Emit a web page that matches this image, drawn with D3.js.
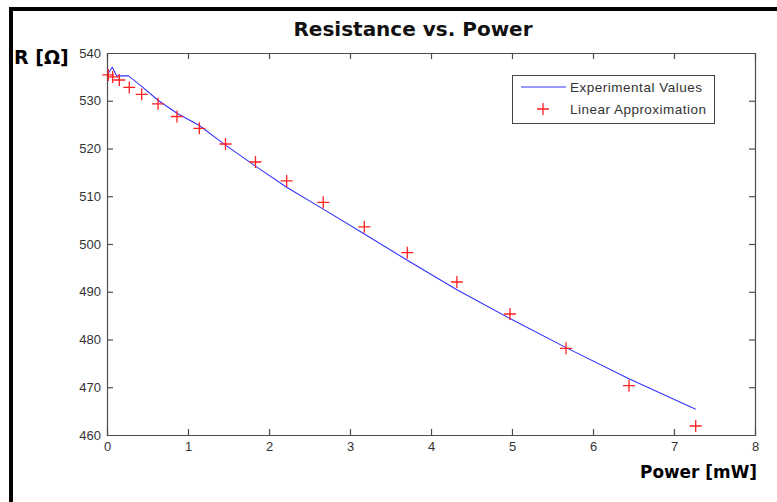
<!DOCTYPE html>
<html>
<head>
<meta charset="utf-8">
<script src="https://cdn.jsdelivr.net/npm/d3@7/dist/d3.min.js"></script>
<style>
  html, body { margin: 0; padding: 0; background: #fff; }
  svg { display: block; }
</style>
</head>
<body>
<script>
// Measured power (mW) and resistance (ohm)
const powerExp = [0.004, 0.065, 0.12, 0.263, 0.428, 0.63, 0.864, 1.14, 1.463, 1.833, 2.218, 2.67, 3.177, 3.707, 4.32, 4.975, 5.667, 6.444, 7.268];
const resistExp = [535.4, 537.0, 535.2, 535.25, 533.0, 530.1, 527.4, 524.8, 520.7, 516.3, 511.9, 507.3, 502.1, 496.6, 490.4, 484.4, 478.3, 471.8, 465.4];

// Linear approximation evaluated at each measurement
const powerLin = [0.016, 0.07, 0.152, 0.275, 0.428, 0.63, 0.864, 1.14, 1.463, 1.833, 2.218, 2.67, 3.177, 3.707, 4.32, 4.975, 5.667, 6.444, 7.268];
const resistLin = [535.4, 535.0, 534.35, 532.8, 531.35, 529.36, 526.7, 524.23, 520.94, 517.17, 513.2, 508.73, 503.6, 498.18, 492.04, 485.34, 478.16, 470.32, 461.88];

const xTicks = [0, 1, 2, 3, 4, 5, 6, 7, 8];
const yTicks = [460, 470, 480, 490, 500, 510, 520, 530, 540];
const legendLabels = ["Experimental Values", "Linear Approximation"];
const legendWidths = [132, 136];

const W = 777, H = 502;
const plotL = 107, plotR = 755, plotT = 53, plotB = 435;
const axisColor = "#4d4d4d";
const textColor = "#333";

const svg = d3.select("body").append("svg").attr("width", W).attr("height", H);

// figure frame
svg.append("rect").attr("x", 9).attr("y", 7).attr("width", 4).attr("height", H - 7).attr("fill", "#000");
svg.append("rect").attr("x", 9).attr("y", 7).attr("width", W - 9).attr("height", 4).attr("fill", "#000");

const x = d3.scaleLinear().domain([0, 8]).range([plotL, plotR]);
const y = d3.scaleLinear().domain([460, 540]).range([plotB, plotT]);

const tickFont = "'Liberation Sans', Arial, sans-serif";

// axes with inward ticks on all four sides
const gx = svg.append("g").attr("transform", `translate(0,${plotB})`)
  .call(d3.axisBottom(x).tickValues(xTicks).tickSize(-6).tickPadding(7).tickFormat(d3.format("d")));
const gxt = svg.append("g").attr("transform", `translate(0,${plotT})`)
  .call(d3.axisTop(x).tickValues(xTicks).tickSize(-6).tickFormat(""));
const gy = svg.append("g").attr("transform", `translate(${plotL},0)`)
  .call(d3.axisLeft(y).tickValues(yTicks).tickSize(-6).tickPadding(6).tickFormat(d3.format("d")));
const gyr = svg.append("g").attr("transform", `translate(${plotR},0)`)
  .call(d3.axisRight(y).tickValues(yTicks).tickSize(-6).tickFormat(""));

[gx, gxt, gy, gyr].forEach(g => {
  g.selectAll("path.domain").attr("stroke", axisColor).attr("stroke-width", 1.2);
  g.selectAll(".tick line").attr("stroke", axisColor).attr("stroke-width", 1.2);
  g.selectAll(".tick text").attr("fill", textColor)
    .style("font-family", tickFont).style("font-size", "13px");
});
// hide tick marks sitting on the box corners
[gx, gxt].forEach(g => g.selectAll(".tick").filter(d => d === 0 || d === 8).select("line").remove());
[gy, gyr].forEach(g => g.selectAll(".tick").filter(d => d === 460 || d === 540).select("line").remove());

// experimental curve
const line = d3.line().x((d, i) => x(powerExp[i])).y(d => y(d));
svg.append("path").datum(resistExp)
  .attr("d", line)
  .attr("fill", "none")
  .attr("stroke", "#3333ff")
  .attr("stroke-width", 1.1);

// linear approximation markers
const marks = svg.append("g");
resistLin.forEach((r, i) => {
  const cx = x(powerLin[i]), cy = y(r);
  marks.append("path")
    .attr("d", `M${cx - 6},${cy}H${cx + 6}M${cx},${cy - 6}V${cy + 6}`)
    .attr("stroke", "#ff2020")
    .attr("stroke-width", 1.3)
    .attr("fill", "none");
});

// legend
const lg = svg.append("g");
lg.append("rect").attr("x", 512.5).attr("y", 75.5).attr("width", 202).attr("height", 48)
  .attr("fill", "#fff").attr("stroke", "#444").attr("stroke-width", 1);
lg.append("line").attr("x1", 521).attr("x2", 566).attr("y1", 87).attr("y2", 87)
  .attr("stroke", "#3333ff").attr("stroke-width", 1.1);
lg.append("path").attr("d", "M537,109H549M543,103V115")
  .attr("stroke", "#ff2020").attr("stroke-width", 1.3);
lg.selectAll("text.lab").data(legendLabels).enter().append("text")
  .attr("class", "lab")
  .attr("x", 570)
  .attr("y", (d, i) => 92 + i * 22)
  .attr("fill", textColor)
  .attr("textLength", (d, i) => legendWidths[i])
  .attr("lengthAdjust", "spacing")
  .style("font-family", tickFont)
  .style("font-size", "13.5px")
  .text(d => d);

// titles
const titleFont = "'DejaVu Sans', sans-serif";
svg.append("text").attr("x", 413).attr("y", 36).attr("text-anchor", "middle")
  .style("font-family", titleFont).style("font-size", "20px").style("font-weight", "bold")
  .attr("fill", "#111").text("Resistance vs. Power");
svg.append("text").attr("x", 14).attr("y", 64)
  .style("font-family", titleFont).style("font-size", "19px").style("font-weight", "bold")
  .attr("fill", "#000").text("R [Ω]");
svg.append("text").attr("x", 757).attr("y", 478).attr("text-anchor", "end")
  .attr("textLength", 117).attr("lengthAdjust", "spacingAndGlyphs")
  .style("font-family", titleFont).style("font-size", "18px").style("font-weight", "bold")
  .attr("fill", "#000").text("Power [mW]");
</script>
</body>
</html>
